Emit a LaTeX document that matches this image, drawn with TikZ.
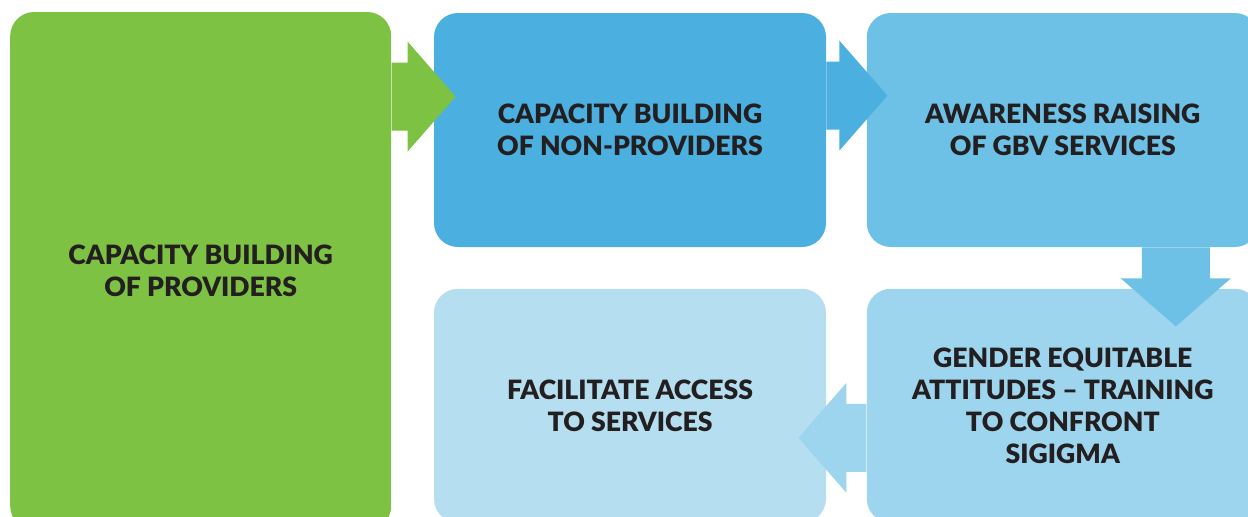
\documentclass[tikz,border=0pt]{standalone}
\usepackage{fontspec}
\setmainfont{Lato}[BoldFont={Lato Black}]
\usetikzlibrary{calc}
\usetikzlibrary{positioning}
\definecolor{provgreen}{HTML}{7DC243}
\definecolor{stageblue}{HTML}{4BAFE0}
\definecolor{awareblue}{HTML}{6DC1E6}
\definecolor{genderblue}{HTML}{9DD5EF}
\definecolor{accessblue}{HTML}{B5DFF1}
\definecolor{textdark}{HTML}{231F20}
\tikzset{
	stage/.style={
		rectangle,
		rounded corners=12pt,
		minimum width=196pt,
		minimum height=117pt,
		inner sep=0pt,
		align=center,
		text=textdark,
		font=\bfseries\fontsize{13.3}{16}\selectfont},
	node distance=20pt,
}
% block arrow: base point, angle, shaft length, colour
\newcommand{\flowarrow}[4]{%
	\fill[#4, shift={(#1)}, rotate=#2]
		(0pt,-17pt) -- (#3,-17pt) -- (#3,-27.5pt) -- ++(24pt,27.5pt)
		-- ++(-24pt,27.5pt) -- ++(0pt,-10.5pt) -- (0pt,17pt) -- cycle;}

\begin{document}
\begin{tikzpicture}
	\useasboundingbox (0pt,0pt) rectangle (624pt,258pt);
	\node[stage, fill=stageblue] (nonprov) at (315pt,193pt) {CAPACITY BUILDING\\OF NON-PROVIDERS};
	\node[stage, fill=awareblue, right=of nonprov] (aware) {AWARENESS RAISING\\OF GBV SERVICES};
	\node[stage, fill=genderblue, below=20.5pt of aware] (gender) {GENDER EQUITABLE\\ATTITUDES -- TRAINING\\TO CONFRONT\\SIGIGMA};
	\node[stage, fill=accessblue, left=of gender] (access) {FACILITATE ACCESS\\TO SERVICES};
	\node[stage, fill=provgreen, minimum width=190.5pt, minimum height=259pt, anchor=north east]
		(prov) at ([xshift=-21pt, yshift=0.5pt]nonprov.north west) {CAPACITY BUILDING\\OF PROVIDERS};

	\coordinate (garrow) at ([yshift=-42.5pt]prov.north east);
	\coordinate (barrow) at ([yshift=-41.5pt]nonprov.north east);
	\coordinate (darrow) at ([xshift=56.5pt]aware.south);
	\coordinate (larrow) at ([yshift=-16pt]gender.west);
	\flowarrow{garrow}{0}{8pt}{provgreen}
	\flowarrow{barrow}{0}{6.5pt}{stageblue}
	\flowarrow{darrow}{-90}{15.5pt}{awareblue}
	\flowarrow{larrow}{180}{10pt}{genderblue}
\end{tikzpicture}
\end{document}
